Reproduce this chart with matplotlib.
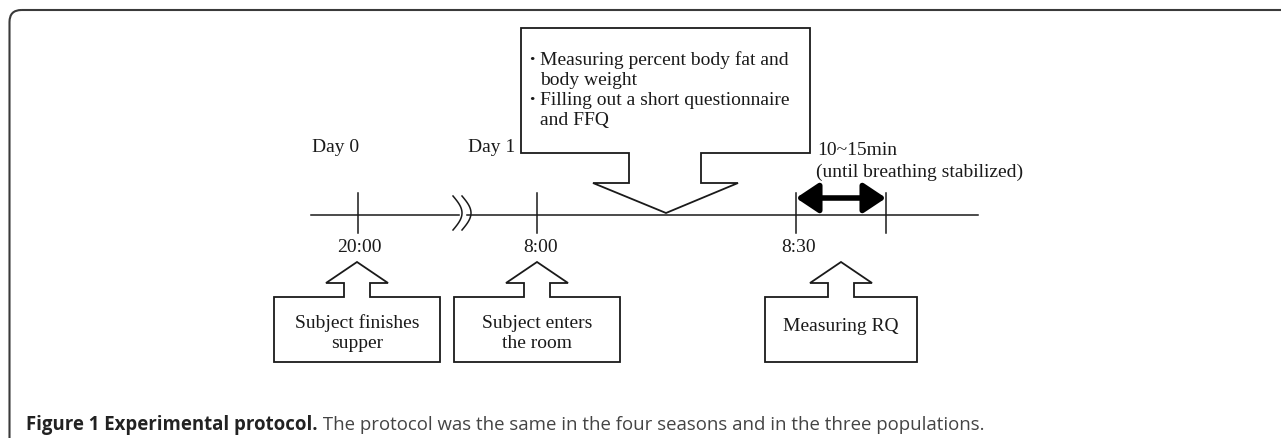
import numpy as np
import matplotlib.pyplot as plt
from matplotlib.patches import Polygon, FancyBboxPatch, FancyArrowPatch

# diagram content (pixel layout, y grows downward)
day_labels = ["Day 0", "Day 1"]
day_x = [312, 468]
tick_x = [358, 537, 796, 886]
time_labels = ["20:00", "8:00", "8:30"]
time_x = [359, 541, 799]
box_labels = ["Subject finishes\nsupper", "Subject enters\nthe room", "Measuring RQ"]
box_center = [357, 537, 841]
box_width = [166, 166, 152]
callout_lines = ["Measuring percent body fat and", "body weight",
                 "Filling out a short questionnaire", "and FFQ"]
callout_bullets = [True, False, True, False]
duration_lines = ["10~15min", "(until breathing stabilized)"]
caption_bold = "Figure 1 Experimental protocol."
caption_rest = " The protocol was the same in the four seasons and in the three populations."

serif = "Liberation Serif"
ink = "#1a1a1a"

fig = plt.figure(figsize=(12.81, 4.38), dpi=100)
ax = fig.add_axes([0, 0, 1, 1])
ax.set_xlim(0, 1281)
ax.set_ylim(438, 0)
ax.axis("off")

# outer frame, open to the right and bottom
ax.add_patch(FancyBboxPatch((9.5, 10), 1400, 500,
                            boxstyle="round,pad=0,rounding_size=12",
                            fc="none", ec="#3a3a3a", lw=1.5))

# timeline with break mark
y_line = 215
ax.plot([311, 459], [y_line, y_line], color=ink, lw=1.1)
ax.plot([467, 978], [y_line, y_line], color=ink, lw=1.1)
t = np.linspace(0, 1, 40)
for x0 in [453, 462]:
    ax.plot(x0 + 9 * np.sin(np.pi * t), 196 + 34 * t, color=ink, lw=1.1)

for x in tick_x:
    ax.plot([x, x], [193, 233], color=ink, lw=1.1)

for lab, x in zip(day_labels, day_x):
    ax.text(x, 152, lab, family=serif, fontsize=14, color=ink, va="baseline")
for lab, x in zip(time_labels, time_x):
    ax.text(x, 252.5, lab, family=serif, fontsize=14, color=ink,
            ha="center", va="baseline")

# big callout pointing down to the timeline
callout = [(521, 28), (810, 28), (810, 153), (701, 153), (701, 183),
           (738, 183), (666, 213), (593, 183), (629, 183), (629, 153),
           (521, 153)]
ax.add_patch(Polygon(callout, closed=True, fc="white", ec=ink, lw=1.3,
                     joinstyle="miter"))
for i, (line, bullet) in enumerate(zip(callout_lines, callout_bullets)):
    yb = 65 + 20 * i
    if bullet:
        ax.text(532, yb, "\u00b7", family=serif, fontsize=16, color=ink,
                ha="center", va="baseline", fontweight="bold")
    ax.text(540, yb, line, family=serif, fontsize=14, color=ink,
            va="baseline")

# duration arrow
ax.add_patch(FancyArrowPatch((796, 198), (886, 198),
                             arrowstyle="<|-|>,head_length=0.9,head_width=0.6",
                             mutation_scale=15, lw=4.0, color="black",
                             shrinkA=0, shrinkB=0))
ax.text(817, 155, duration_lines[0], family=serif, fontsize=14, color=ink,
        va="baseline")
ax.text(816, 177, duration_lines[1], family=serif, fontsize=14, color=ink,
        va="baseline")

# boxes with up arrows
for lab, cx, w in zip(box_labels, box_center, box_width):
    x0, x1 = cx - w / 2, cx + w / 2
    shape = [(x0, 362), (x0, 297), (cx - 13, 297), (cx - 13, 283),
             (cx - 31, 283), (cx, 262), (cx + 31, 283), (cx + 13, 283),
             (cx + 13, 297), (x1, 297), (x1, 362)]
    ax.add_patch(Polygon(shape, closed=True, fc="white", ec=ink, lw=1.3,
                         joinstyle="miter"))
    lines = lab.split("\n")
    if len(lines) == 2:
        ax.text(cx, 327.5, lines[0], family=serif, fontsize=14, color=ink,
                ha="center", va="baseline")
        ax.text(cx, 347.5, lines[1], family=serif, fontsize=14, color=ink,
                ha="center", va="baseline")
    else:
        ax.text(cx, 331, lines[0], family=serif, fontsize=14, color=ink,
                ha="center", va="baseline")

# caption
cap = ax.text(26, 430, caption_bold, family="Open Sans", fontsize=13.4,
              fontweight="bold", color="#222222", va="baseline")
fig.canvas.draw()
bb = cap.get_window_extent()
x_end = ax.transData.inverted().transform((bb.x1, bb.y0))[0]
ax.text(x_end, 430, caption_rest, family="Open Sans", fontsize=13.4,
        color="#444444", va="baseline")

fig.savefig("out.png", dpi=100)
